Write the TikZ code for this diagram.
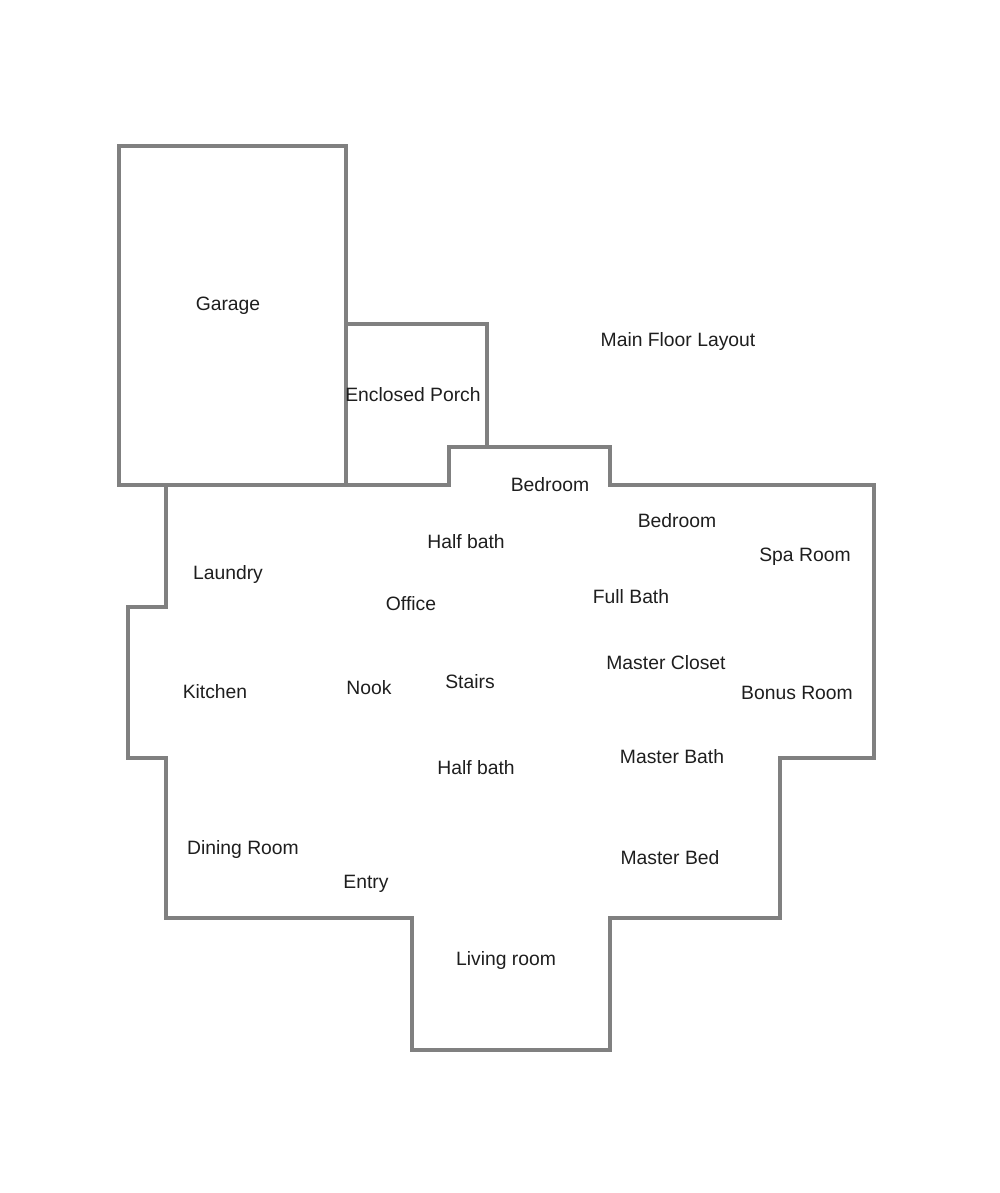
\documentclass[tikz,border=0pt]{standalone}
\usepackage{fontspec}
\setmainfont{Liberation Sans}
\definecolor{wallgray}{RGB}{128,128,128}
\definecolor{labelink}{RGB}{30,30,30}
\tikzset{
    wall/.style={wallgray,line width=2.3pt,line join=miter},
    room/.style={text=labelink,inner sep=0pt,yshift=-0.04cm,font=\fontsize{11}{13}\selectfont}
}

\begin{document}
\begin{tikzpicture}[x=0.02cm,y=-0.02cm]
            \useasboundingbox (0,0) rectangle (1000,1193);
            % garage and porch
            \draw[wall] (119,485) rectangle (346,146);
            \draw[wall] (346,324)--(487,324)--(487,447);
            % main floor outline
            \draw[wall] (346,485)--(449,485)--(449,447)--(610,447)--(610,485)--(874,485)--(874,758)--(780,758)--(780,918)--(610,918)--(610,1050)--(412,1050)--(412,918)--(166,918)--(166,758)--(128,758)--(128,607)--(166,607)--(166,485);
            \node[room] (title) at (678,340) {Main Floor Layout};
            \foreach \x/\y/\n/\t in {228/304/garage/Garage, 413/393/porch/Enclosed Porch,
                550/483/bedA/Bedroom, 677/519/bedB/Bedroom, 466/540/halfA/Half bath,
                805/555/spa/Spa Room, 228/572/laundry/Laundry, 631/595/fullbath/Full Bath,
                411/602/office/Office, 666/661/closet/Master Closet, 215/690/kitchen/Kitchen,
                369/686/nook/Nook, 470/680/stairs/Stairs, 797/691/bonus/Bonus Room,
                672/755/masterbath/Master Bath, 476/766/halfB/Half bath,
                243/847/dining/Dining Room, 366/882/entry/Entry,
                670/856/masterbed/Master Bed, 506/958/living/Living room}{
                \node[room] (\n) at (\x,\y) {\t};
            }
        \end{tikzpicture}
\end{document}
